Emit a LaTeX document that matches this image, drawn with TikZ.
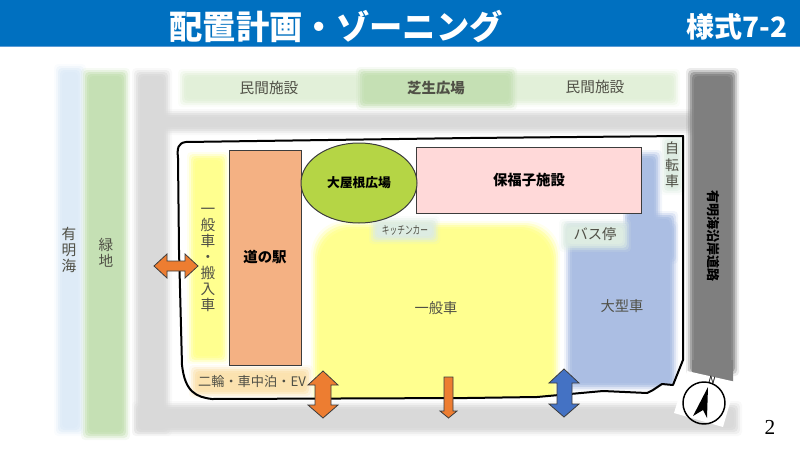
\documentclass[tikz,border=0pt]{standalone}
\usepackage{fontspec}
\setmainfont{Noto Sans CJK JP}
\newfontfamily\pagefont{Liberation Serif}
\definecolor{barblue}{RGB}{0,112,192}
\definecolor{barline}{RGB}{91,155,213}
\definecolor{seablue}{RGB}{222,235,247}
\definecolor{lawngreen}{RGB}{197,224,180}
\definecolor{palegreen}{RGB}{226,240,217}
\definecolor{roadgrey}{RGB}{217,217,217}
\definecolor{highwaygrey}{RGB}{127,127,127}
\definecolor{zoneyellow}{RGB}{255,255,143}
\definecolor{zoneblue}{RGB}{171,190,227}
\definecolor{zoneorange}{RGB}{251,226,175}
\definecolor{zoneteal}{RGB}{221,236,226}
\definecolor{stationorange}{RGB}{244,177,131}
\definecolor{plazagreen}{RGB}{181,213,69}
\definecolor{facilitypink}{RGB}{255,217,217}
\definecolor{arroworange}{RGB}{237,125,49}
\definecolor{arrowblue}{RGB}{68,114,196}
\definecolor{softtext}{RGB}{80,80,70}
\tikzset{every picture/.style={line width=0.75pt}}
\tikzset{
  softlabel/.style={text=softtext,inner sep=0.75pt,font=\fontsize{11}{12}\selectfont,align=center},
  boldlabel/.style={text=black,inner sep=0.75pt,font=\fontsize{10.8}{12}\selectfont\bfseries,align=center},
  buildingbox/.style={draw={rgb,255:red,60;green,60;blue,60},line width=0.75pt},
  movearrow/.style={draw={rgb,255:red,60;green,60;blue,60},line width=0.6pt,fill=arroworange,line join=miter},
}
% blurred zone: colour, x1, y1, x2, y2
\newcommand{\softbox}[6][3pt]{%
  \foreach \d/\o in {4/0.15,2/0.3,0/0.5,-2/0.7,-4/1}{%
    \fill[#2,opacity=\o,rounded corners=#1] ({#3-\d},{#4-\d}) rectangle ({#5+\d},{#6+\d});}}
% outline of the site
\newcommand{\siteoutline}{(178,158) .. controls (177,148) and (178,143) .. (186,142) -- (470,138) -- (683,136) -- (683,360) -- (673,385) -- (662,384) -- (653,390) -- (647,393) -- (603,391) -- (537,397) -- (467,398) -- (212,399) .. controls (196,397) and (185,392) .. (182,365) -- (179,250) -- cycle}
\begin{document}
\begin{tikzpicture}[x=0.75pt,y=0.75pt,yscale=-1,xscale=1]
\useasboundingbox (0,0) rectangle (800,450);

%Title bar
\fill [barblue] (0,0) rectangle (800,46);
\fill [barline] (0,46) rectangle (800,47);
\node (title) [text=white,font=\fontsize{25}{28}\selectfont\bfseries] at (336,27) {配置計画・ゾーニング};
\node (form) [text=white,font=\fontsize{21}{24}\selectfont\bfseries] at (737,27) {様式7-2};

%Surroundings
\softbox{seablue}{58}{68}{82}{432}
\softbox{lawngreen}{85}{72}{126}{436}
\softbox{roadgrey}{136}{72}{168}{432}
\softbox{roadgrey}{136}{405}{738}{432}
\softbox{roadgrey}{150}{113}{692}{131}
\softbox{palegreen}{182}{73}{362}{103}
\softbox{palegreen}{510}{73}{676}{103}
\softbox{lawngreen}{360}{71}{513}{106}
\softbox{highwaygrey}{690}{72}{735}{372}
\fill [highwaygrey] (692,360) -- (733,360) -- (733,384) -- (692,374) -- cycle;

%Zones
\softbox{zoneyellow}{191}{156}{225}{360}
\begin{scope}
\clip \siteoutline;
\softbox[25pt]{zoneyellow}{315}{225}{556}{440}
\softbox{zoneblue}{627}{154}{658}{240}
\softbox{zoneblue}{627}{215}{674}{260}
\softbox{zoneblue}{568}{225}{674}{387}
\end{scope}
\softbox{zoneorange}{193}{369}{309}{394}
\softbox{zoneteal}{373}{220}{436}{240}
\softbox{zoneteal}{563}{223}{627}{248}
\softbox{zoneteal}{664}{139}{681}{191}

%Site boundary
\draw [line width=1.5pt,line join=round] \siteoutline;

%Buildings
\draw [buildingbox,fill=stationorange] (229.5,150.5) rectangle (301,365.5);
\draw [buildingbox,fill=facilitypink] (416,147.5) rectangle (641.5,213);
\draw [buildingbox,fill=plazagreen] (359,183) ellipse (58 and 40);

%Arrows
\draw [movearrow] (154,266) -- (167,254) -- (167,261) -- (185,261) -- (185,254) -- (198,266) -- (185,278) -- (185,271) -- (167,271) -- (167,278) -- cycle;
\draw [movearrow] (323,371) -- (338,385) -- (331,385) -- (331,405) -- (338,405) -- (323,418) -- (308,405) -- (315,405) -- (315,385) -- (308,385) -- cycle;
\draw [movearrow] (444,377) -- (453,377) -- (453,411) -- (457,411) -- (448.5,418) -- (440,411) -- (444,411) -- cycle;
\draw [movearrow,fill=arrowblue] (564,369) -- (579,383) -- (572,383) -- (572,404) -- (579,404) -- (564,417) -- (549,404) -- (557,404) -- (557,383) -- (549,383) -- cycle;

%Compass
\fill [white] (687,371) -- (736,382) -- (723,427) -- (674,413) -- cycle;
\draw [line width=1.1pt] (704,403) circle (21);
\fill [black] (708,387) -- (707,418) -- (703,410) -- (693,416) -- cycle;
\node (north) [inner sep=0pt,rotate=-15,font=\fontsize{7}{7}\selectfont\itshape] at (712,380) {N};

%Labels
\node (sea) [softlabel] at (69,250) {有\\明\\海};
\node (green) [softlabel] at (106,253) {緑\\地};
\node (shopa) [softlabel] at (269,88) {民間施設};
\node (lawn) [boldlabel,text=softtext] at (436,88) {芝生広場};
\node (shopb) [softlabel] at (595,87) {民間施設};
\node (cars) [softlabel] at (208,260) {一\\般\\車\\・\\搬\\入\\車};
\node (station) [boldlabel] at (265,257) {道の駅};
\node (plaza) [boldlabel,font=\fontsize{9.6}{11}\selectfont\bfseries] at (359,183) {大屋根広場};
\node (welfare) [boldlabel] at (529,180) {保福子施設};
\node (kitchen) [softlabel,font=\fontsize{8.5}{10}\selectfont] at (405,230) {\scalebox{0.68}[1]{キッチンカー}};
\node (bus) [softlabel,font=\fontsize{10.7}{12}\selectfont] at (595,234) {バス停};
\node (bike) [softlabel,font=\fontsize{10.5}{12.5}\selectfont] at (672,165) {自\\転\\車};
\node (general) [softlabel,font=\fontsize{10.7}{12}\selectfont] at (436,308) {一般車};
\node (large) [softlabel,font=\fontsize{10.7}{12}\selectfont] at (622,306) {大型車};
\node (bikes) [softlabel,font=\fontsize{9.9}{11}\selectfont] at (252,381) {二輪・車中泊・EV};
\node (highway) [boldlabel,rotate=-90,font=\fontsize{9.8}{11}\selectfont\bfseries] at (713,236) {有明海沿岸道路};
\node (page) [inner sep=0pt,font=\pagefont\fontsize{16}{18}\selectfont] at (770,427) {2};
\end{tikzpicture}
\end{document}
